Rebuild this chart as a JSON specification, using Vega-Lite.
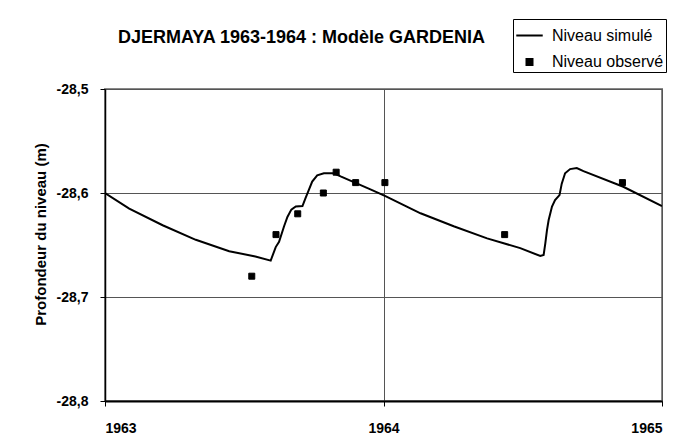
{
  "$schema": "https://vega.github.io/schema/vega-lite/v6.json",
  "width": 557,
  "height": 312,
  "autosize": {"type": "none"},
  "padding": {"left": 105, "top": 89, "right": 21, "bottom": 42},
  "background": "white",
  "title": {
    "text": "DJERMAYA 1963-1964 : Modèle GARDENIA",
    "font": "Liberation Sans",
    "fontSize": 18,
    "fontWeight": "bold",
    "color": "black",
    "anchor": "middle",
    "dx": -82,
    "dy": 46,
    "baseline": "bottom",
    "offset": 0
  },
  "datasets": {
    "simule": [
      {"annee": 1963.000, "niveau": -28.600},
      {"annee": 1963.087, "niveau": -28.615},
      {"annee": 1963.207, "niveau": -28.631},
      {"annee": 1963.326, "niveau": -28.645},
      {"annee": 1963.446, "niveau": -28.656},
      {"annee": 1963.540, "niveau": -28.661},
      {"annee": 1963.595, "niveau": -28.665},
      {"annee": 1963.613, "niveau": -28.652},
      {"annee": 1963.625, "niveau": -28.647},
      {"annee": 1963.643, "niveau": -28.632},
      {"annee": 1963.655, "niveau": -28.623},
      {"annee": 1963.669, "niveau": -28.616},
      {"annee": 1963.685, "niveau": -28.613},
      {"annee": 1963.709, "niveau": -28.6125},
      {"annee": 1963.720, "niveau": -28.605},
      {"annee": 1963.732, "niveau": -28.597},
      {"annee": 1963.744, "niveau": -28.589},
      {"annee": 1963.762, "niveau": -28.583},
      {"annee": 1963.786, "niveau": -28.581},
      {"annee": 1963.822, "niveau": -28.581},
      {"annee": 1963.846, "niveau": -28.584},
      {"annee": 1963.953, "niveau": -28.5965},
      {"annee": 1964.007, "niveau": -28.603},
      {"annee": 1964.133, "niveau": -28.6195},
      {"annee": 1964.252, "niveau": -28.632},
      {"annee": 1964.372, "niveau": -28.6436},
      {"annee": 1964.491, "niveau": -28.653},
      {"annee": 1964.563, "niveau": -28.6606},
      {"annee": 1964.575, "niveau": -28.6596},
      {"annee": 1964.581, "niveau": -28.6484},
      {"annee": 1964.587, "niveau": -28.6356},
      {"annee": 1964.593, "niveau": -28.626},
      {"annee": 1964.605, "niveau": -28.613},
      {"annee": 1964.616, "niveau": -28.6067},
      {"annee": 1964.632, "niveau": -28.602},
      {"annee": 1964.640, "niveau": -28.591},
      {"annee": 1964.652, "niveau": -28.581},
      {"annee": 1964.670, "niveau": -28.577},
      {"annee": 1964.694, "niveau": -28.576},
      {"annee": 1964.718, "niveau": -28.579},
      {"annee": 1964.861, "niveau": -28.594},
      {"annee": 1965.000, "niveau": -28.6125}
    ],
    "observe": [
      {"annee": 1963.527, "niveau": -28.68, "serie": "Niveau observé"},
      {"annee": 1963.614, "niveau": -28.64, "serie": "Niveau observé"},
      {"annee": 1963.692, "niveau": -28.62, "serie": "Niveau observé"},
      {"annee": 1963.784, "niveau": -28.60, "serie": "Niveau observé"},
      {"annee": 1963.830, "niveau": -28.58, "serie": "Niveau observé"},
      {"annee": 1963.900, "niveau": -28.59, "serie": "Niveau observé"},
      {"annee": 1964.005, "niveau": -28.59, "serie": "Niveau observé"},
      {"annee": 1964.435, "niveau": -28.64, "serie": "Niveau observé"},
      {"annee": 1964.858, "niveau": -28.59, "serie": "Niveau observé"}
    ]
  },
  "encoding": {
    "x": {
      "field": "annee",
      "type": "quantitative",
      "scale": {"domain": [1963, 1965], "nice": false, "zero": false},
      "axis": {
        "title": null,
        "tickCount": 2,
        "format": "d",
        "labelOverlap": false,
        "labelFont": "Liberation Sans",
        "labelFontSize": 14,
        "labelFontWeight": "bold",
        "labelColor": "black",
        "labelPadding": 15,
        "tickSize": 5,
        "tickColor": "black",
        "domainColor": "black",
        "domainWidth": 2,
        "grid": true,
        "gridColor": "#555555",
        "gridWidth": 1
      }
    },
    "y": {
      "field": "niveau",
      "type": "quantitative",
      "scale": {"domain": [-28.8, -28.5], "nice": false, "zero": false},
      "axis": {
        "title": "Profondeur du niveau (m)",
        "titleFont": "Liberation Sans",
        "titleFontSize": 15,
        "titleFontWeight": "bold",
        "titleColor": "black",
        "titlePadding": 8,
        "titleY": 145,
        "values": [-28.8, -28.7, -28.6, -28.5],
        "labelExpr": "replace(replace(format(datum.value, '.1f'), '.', ','), '\u2212', '-')",
        "labelFont": "Liberation Sans",
        "labelFontSize": 14,
        "labelFontWeight": "bold",
        "labelColor": "black",
        "labelPadding": 12,
        "tickSize": 5,
        "tickColor": "black",
        "domainColor": "black",
        "domainWidth": 1.5,
        "grid": true,
        "gridColor": "#555555",
        "gridWidth": 1
      }
    }
  },
  "layer": [
    {
      "data": {"name": "simule"},
      "mark": {"type": "line", "color": "black", "strokeWidth": 2, "clip": true},
      "encoding": {}
    },
    {
      "data": {"name": "observe"},
      "mark": {"type": "point", "filled": true, "color": "black", "stroke": "black", "strokeWidth": 1, "opacity": 1},
      "encoding": {
        "shape": {
          "field": "serie",
          "type": "nominal",
          "scale": {"domain": ["Niveau simulé", "Niveau observé"], "range": ["stroke", "square"]},
          "legend": {
            "title": null,
            "orient": "none",
            "legendX": 408,
            "legendY": -70,
            "direction": "vertical",
            "strokeColor": "black",
            "fillColor": "white",
            "padding": 2,
            "rowPadding": 10,
            "labelFont": "Liberation Sans",
            "labelFontSize": 16,
            "labelColor": "black",
            "labelOffset": 8,
            "labelLimit": 200,
            "symbolOpacity": 1,
            "symbolFillColor": "black",
            "symbolStrokeColor": "black",
            "symbolStrokeWidth": 2
          }
        },
        "size": {
          "field": "serie",
          "type": "nominal",
          "scale": {"domain": ["Niveau simulé", "Niveau observé"], "range": [700, 36]}
        }
      }
    }
  ],
  "config": {
    "view": {"stroke": "#888888", "strokeWidth": 2},
    "font": "Liberation Sans"
  }
}
